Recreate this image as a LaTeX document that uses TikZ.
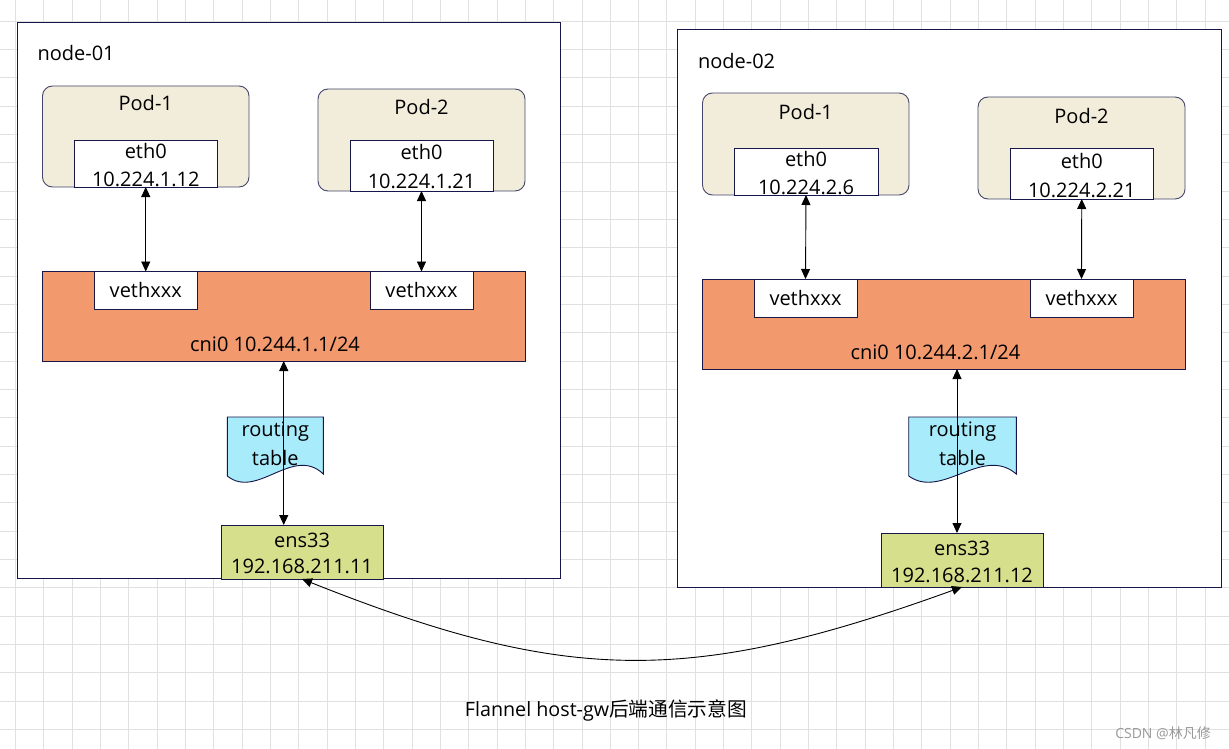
\documentclass[tikz,border=0pt]{standalone}
\usepackage{fontspec}
\setmainfont{Open Sans}
\newfontfamily\cjkfont{Noto Sans CJK SC}
\usetikzlibrary{arrows.meta}
\definecolor{frame}{RGB}{22,22,72}
\definecolor{podfill}{RGB}{242,237,218}
\definecolor{cnifill}{RGB}{243,153,110}
\definecolor{rtfill}{RGB}{168,236,252}
\definecolor{ensfill}{RGB}{214,224,140}
\definecolor{gridc}{RGB}{224,224,224}
\begin{document}
\begin{tikzpicture}[x=1pt,y=-1pt,
  every node/.style={inner sep=0pt, outer sep=0pt},
  txt/.style={font=\fontsize{20}{24}\selectfont, text height=14pt, text depth=0pt, text=black},
  hostbox/.style={draw=frame, fill=white, line width=0.9pt, anchor=north west},
  podbox/.style={draw=frame!80, fill=podfill, line width=0.9pt, rounded corners=10pt, anchor=north west},
  ethbox/.style={draw=frame, fill=white, line width=0.9pt, anchor=north west},
  cnibox/.style={draw=frame, fill=cnifill, line width=0.9pt, anchor=north west},
  ensbox/.style={draw=frame, fill=ensfill, line width=0.9pt, anchor=north west},
  rtshape/.style={draw=frame, fill=rtfill, line width=0.9pt},
  gridline/.style={draw=gridc, line width=0.8pt},
  arr/.style={{Triangle[length=10pt,width=9pt]}-{Triangle[length=10pt,width=9pt]}, line width=0.9pt, black}
]
\useasboundingbox (0,0) rectangle (1229,749);
\fill[white] (0,0) rectangle (1229,749);
% grid
\foreach \i in {0,...,42} \draw[gridline] ({15.3+\i*28.33},0) -- ({15.3+\i*28.33},749);
\foreach \j in {0,...,25} \draw[gridline] (0,{21+\j*28.33}) -- (1229,{21+\j*28.33});

% host boxes
\node[hostbox, minimum width=543pt, minimum height=556pt] (host1) at (17,22) {};
\node[hostbox, minimum width=544pt, minimum height=558pt] (host2) at (677,29) {};
\node[txt, anchor=west] (host1lbl) at (37.5,54) {node-01};
\node[txt, anchor=west] (host2lbl) at (698,62) {node-02};

% pods node-01
\node[podbox, minimum width=206.5pt, minimum height=101pt] (p11) at (42.5,86) {};
\node[podbox, minimum width=207pt, minimum height=102pt] (p12) at (318,89) {};
\node[ethbox, minimum width=143.5pt, minimum height=47pt] (e11) at (74,140) {};
\node[ethbox, minimum width=143pt, minimum height=51pt] (e12) at (350,140) {};
% pods node-02
\node[podbox, minimum width=206.5pt, minimum height=102pt] (p21) at (702.5,93) {};
\node[podbox, minimum width=207pt, minimum height=102pt] (p22) at (978,97) {};
\node[ethbox, minimum width=144pt, minimum height=47pt] (e21) at (734,148) {};
\node[ethbox, minimum width=143.5pt, minimum height=51pt] (e22) at (1010,148) {};

% cni0 bridges
\node[cnibox, minimum width=482.5pt, minimum height=89.5pt] (cni1) at (42.5,271.5) {};
\node[ethbox, minimum width=103.5pt, minimum height=37.5pt] (v11) at (94,271.5) {};
\node[ethbox, minimum width=103pt, minimum height=37.5pt] (v12) at (370,271.5) {};
\node[cnibox, minimum width=482.5pt, minimum height=90pt] (cni2) at (702.5,279) {};
\node[ethbox, minimum width=103pt, minimum height=38pt] (v21) at (754,279) {};
\node[ethbox, minimum width=103pt, minimum height=38pt] (v22) at (1030,279) {};

% routing tables
\path[rtshape] (227.3,417) -- (323.3,417) -- (323.3,474) .. controls (293,445) and (257,500) .. (227.3,476) -- cycle;
\path[rtshape] (908.7,417) -- (1016.3,417) -- (1016.3,474) .. controls (982.3,445) and (942,500) .. (908.7,476) -- cycle;

% ens33
\node[ensbox, minimum width=162pt, minimum height=54pt] (ens1) at (221,525) {};
\node[ensbox, minimum width=162pt, minimum height=54pt] (ens2) at (881,533) {};

% texts
\node[txt] (p11t) at (145.75,104) {Pod-1};
\node[txt] (p12t) at (421.5,108) {Pod-2};
\node[txt] (p21t) at (805.75,112.5) {Pod-1};
\node[txt] (p22t) at (1081.5,117) {Pod-2};
\node[txt] (e11a) at (145.75,151.5) {eth0};
\node[txt] (e11b) at (145.75,179.5) {10.224.1.12};
\node[txt] (e12a) at (421.5,153) {eth0};
\node[txt] (e12b) at (421.5,181.5) {10.224.1.21};
\node[txt] (e21a) at (806,159.5) {eth0};
\node[txt] (e21b) at (806,187.5) {10.224.2.6};
\node[txt] (e22a) at (1081.75,161) {eth0};
\node[txt] (e22b) at (1081.75,190) {10.224.2.21};
\node[txt] (v11t) at (v11.center) {vethxxx};
\node[txt] (v12t) at (v12.center) {vethxxx};
\node[txt] (v21t) at (v21.center) {vethxxx};
\node[txt] (v22t) at (v22.center) {vethxxx};
\node[txt] (cni1t) at (275,344) {cni0 10.244.1.1/24};
\node[txt] (cni2t) at (935.4,352) {cni0 10.244.2.1/24};
\node[txt] (rt1a) at (275.3,429.7) {routing};
\node[txt] (rt1b) at (275.3,458) {table};
\node[txt] (rt2a) at (962.5,429.7) {routing};
\node[txt] (rt2b) at (962.5,458) {table};
\node[txt] (ens1a) at (302,540) {ens33};
\node[txt] (ens1b) at (302,566.7) {192.168.211.11};
\node[txt] (ens2a) at (962,548) {ens33};
\node[txt] (ens2b) at (962,575.5) {192.168.211.12};

% connectors
\draw[arr] (e11.south) -- (v11.north);
\draw[arr] (e12.south) -- (v12.north);
\draw[arr] (e21.south) -- (v21.north);
\draw[arr] (e22.south) -- (v22.north);
\draw[arr] (cni1.south) -- (cni1.south |- ens1.north);
\draw[arr] ([xshift=13.25pt]cni2.south) -- ([xshift=13.25pt]cni2.south |- ens2.north);
\draw[arr] (ens1.south) .. controls +(266,106) and +(-271,98) .. (ens2.south);

% caption
\node[txt, font=\fontsize{19.7}{22}\selectfont] (cap) at (606,709) {Flannel host-gw{\cjkfont 后端通信示意图}};
\node[font=\fontsize{14}{16}\selectfont, text=black!40, text height=10pt, text depth=0pt] (wm) at (1163,733) {CSDN @{\cjkfont 林凡修}};
\end{tikzpicture}
\end{document}
